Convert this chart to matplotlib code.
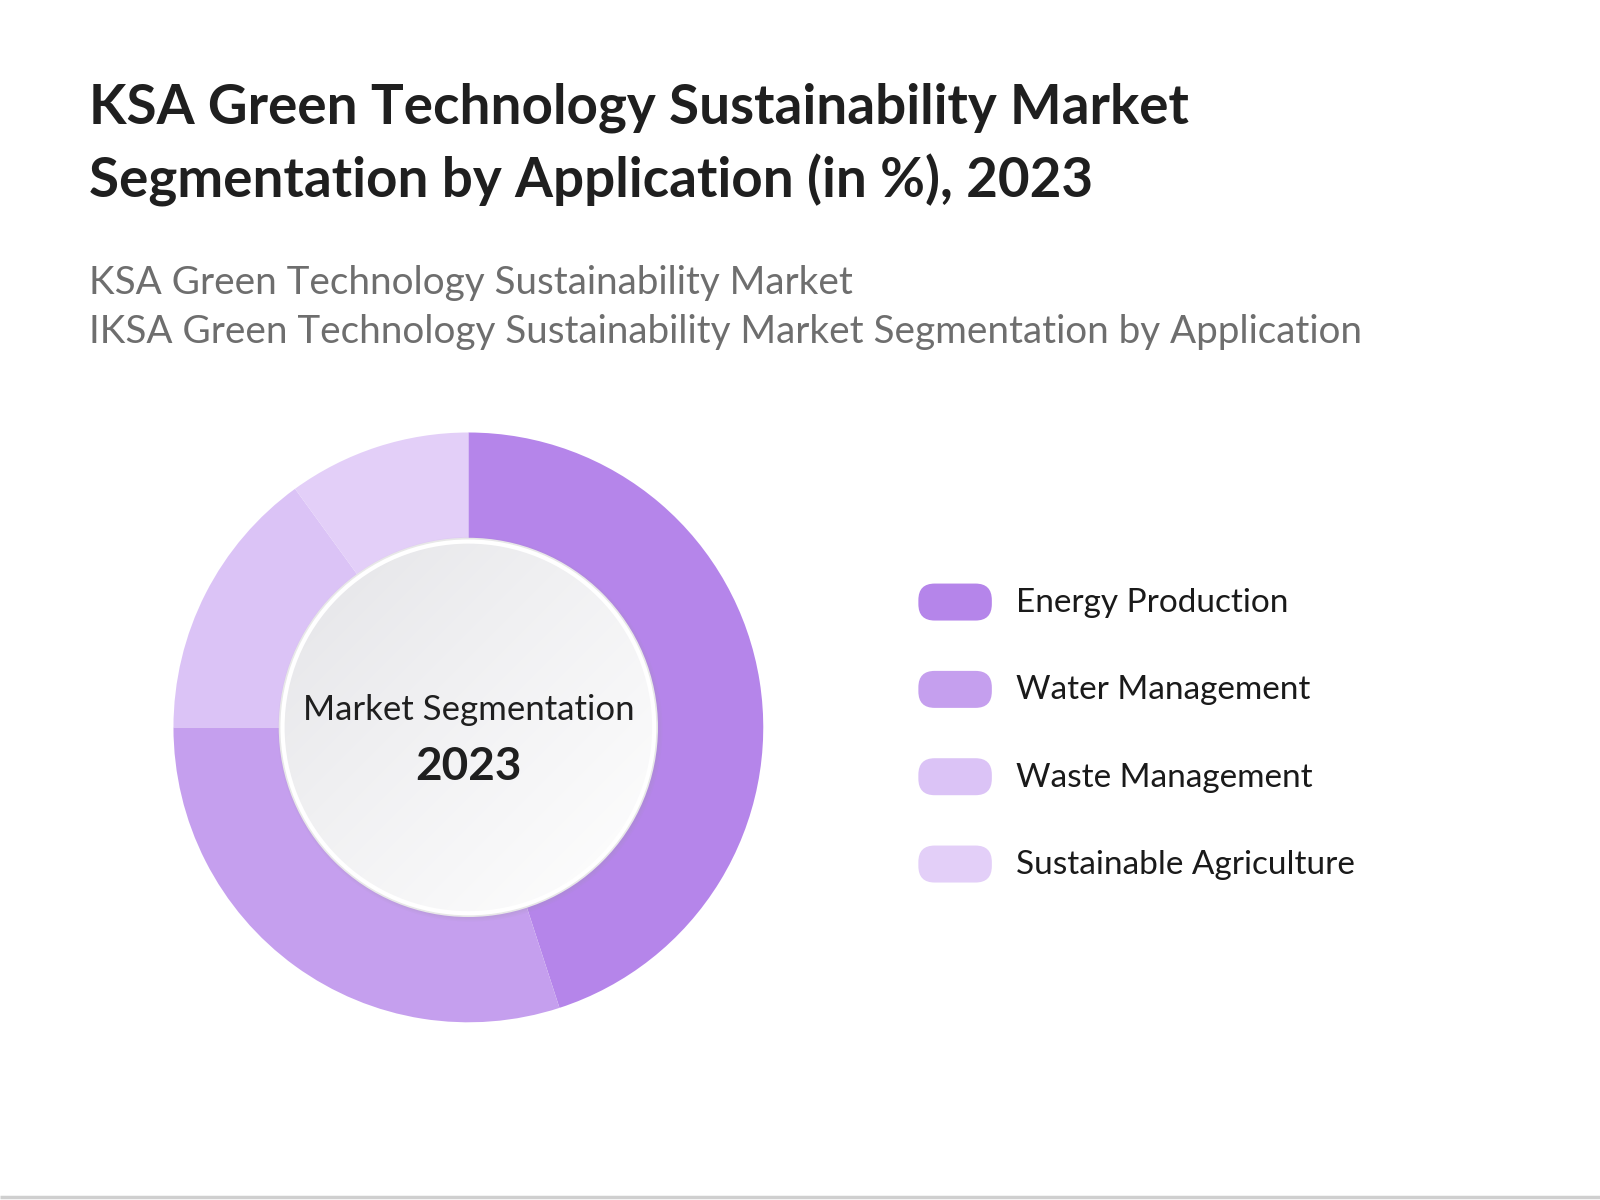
import numpy as np
import matplotlib.pyplot as plt
from matplotlib.patches import Circle, FancyBboxPatch

plt.rcParams['font.family'] = ['Lato', 'DejaVu Sans']

# === Data ===
segments = ["Energy Production", "Water Management", "Waste Management", "Sustainable Agriculture"]
shares = [45, 30, 15, 10]
colors = ["#b585ea", "#c59fee", "#dbc3f6", "#e3cff8"]

title_lines = ["KSA Green Technology Sustainability Market",
               "Segmentation by Application (in %), 2023"]
subtitle_lines = ["KSA Green Technology Sustainability Market",
                  "IKSA Green Technology Sustainability Market Segmentation by Application"]
center_label = "Market Segmentation"
center_year = "2023"

# reference frame is 1568 x 1168, output is 1600 x 1200
W, H = 1568, 1168
fig = plt.figure(figsize=(16, 12), dpi=100)
fig.patch.set_facecolor("white")

bg = fig.add_axes([0, 0, 1, 1])
bg.set_xlim(0, W)
bg.set_ylim(H, 0)
bg.axis("off")

# titles
for i, line in enumerate(title_lines):
    bg.text(87, 120 + i * 72, line, fontsize=39.4, fontweight="bold",
            color="#1f1f1f", va="baseline", ha="left")
for i, line in enumerate(subtitle_lines):
    bg.text(87, 286 + i * 48, line, fontsize=27.8, color="#6e6e6e",
            va="baseline", ha="left")

# bottom rule
bg.plot([0, W], [1165, 1165], color="#cfcfcf", lw=2.5, solid_capstyle="butt")

# legend
for i, (name, col) in enumerate(zip(segments, colors)):
    yc = 586 + i * 85
    box = FancyBboxPatch((900, yc - 18), 72, 36,
                         boxstyle="round,pad=0,rounding_size=16",
                         fc=col, ec="none")
    bg.add_patch(box)
    bg.text(996, yc + 1, name, fontsize=24, color="#1a1a1a",
            va="center", ha="left")

# donut axes
cx, cy, R = 459, 708, 289
sx, sy = 1600 / W, 1200 / H
axw = 2 * R * sx / 1600
axh = 2 * R * sx / 1200
ax = fig.add_axes([cx * sx / 1600 - axw / 2, 1 - cy * sy / 1200 - axh / 2, axw, axh])
ax.pie(shares, colors=colors, startangle=90, counterclock=False, radius=1.0,
       wedgeprops=dict(width=0.45, edgecolor="none", linewidth=0))
ax.set_aspect("equal")
ax.axis("off")

r_in = 185 / R
# soft shadow
for k, a in enumerate([0.05, 0.05, 0.06]):
    ax.add_patch(Circle((0.006, -0.006), r_in + 0.012 - k * 0.005, fc="#9a9a9a",
                        ec="none", alpha=a, zorder=3))
# white rim
ax.add_patch(Circle((0, 0), r_in, fc="white", ec="#e8e8e8", lw=1.2, zorder=4))
# gradient fill
inner = Circle((0, 0), r_in - 0.017, fc="none", ec="none", zorder=5)
ax.add_patch(inner)
n = 300
gx, gy = np.meshgrid(np.linspace(-1, 1, n), np.linspace(1, -1, n))
t = (gx - gy) / 2.0
t = np.clip((t + 1) / 2, 0, 1) ** 0.8
c0 = np.array([0.885, 0.885, 0.90])
c1 = np.array([1.0, 1.0, 1.0])
img = c0[None, None, :] * (1 - t[..., None]) + c1[None, None, :] * t[..., None]
im = ax.imshow(img, extent=(-r_in, r_in, -r_in, r_in), zorder=5, interpolation="bilinear")
im.set_clip_path(inner)
ax.set_xlim(-1, 1)
ax.set_ylim(-1, 1)

ax.text(0, 0.06, center_label, fontsize=25, color="#1f1f1f", ha="center",
        va="center", zorder=6)
ax.text(0, -0.135, center_year, fontsize=33, fontweight="bold", color="#1f1f1f",
        ha="center", va="center", zorder=6)

fig.savefig("out.png", dpi=100, facecolor="white")
